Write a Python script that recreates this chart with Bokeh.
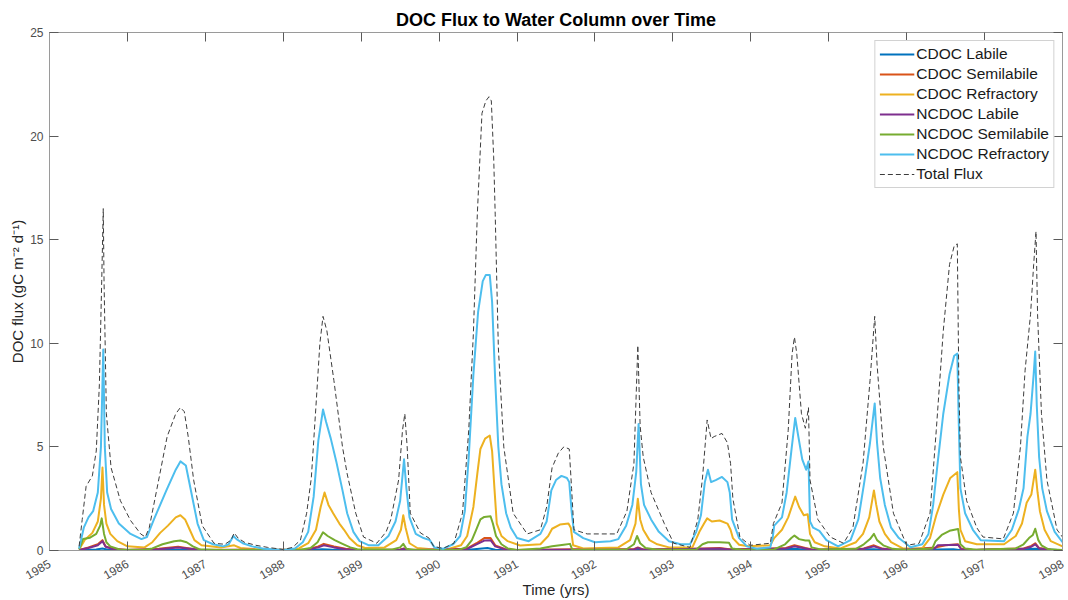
from bokeh.plotting import figure
from bokeh.models import FixedTicker, LinearAxis, Range1d, CustomLabelingPolicy
from bokeh.embed import file_html
from bokeh.resources import INLINE
import math

# Flux series as (time in decimal years, gC m^-2 d^-1) pairs
CDOC_LABILE = [
    (1985.38, 0.01), (1985.60, 0.05), (1985.68, 0.10), (1985.75, 0.04), (1986.00, 0.01),
    (1986.65, 0.04), (1986.90, 0.01), (1988.30, 0.01), (1988.50, 0.06), (1988.70, 0.02),
    (1989.55, 0.02), (1990.30, 0.01), (1990.45, 0.06), (1990.62, 0.12), (1990.72, 0.04),
    (1990.90, 0.01), (1991.60, 0.02), (1992.55, 0.04), (1993.55, 0.04), (1994.56, 0.08),
    (1994.75, 0.03), (1995.58, 0.06), (1995.75, 0.01), (1996.60, 0.06), (1996.70, 0.01),
    (1997.65, 0.08), (1998.00, 0.01),
]

CDOC_SEMILABILE = [
    (1985.38, 0.03), (1985.50, 0.15), (1985.62, 0.30), (1985.68, 0.50), (1985.72, 0.20),
    (1985.82, 0.08), (1986.00, 0.03), (1986.40, 0.08), (1986.65, 0.18), (1986.80, 0.10),
    (1986.95, 0.03), (1988.30, 0.05), (1988.45, 0.20), (1988.52, 0.32), (1988.65, 0.20),
    (1988.80, 0.08), (1988.95, 0.03), (1989.50, 0.05), (1989.55, 0.10), (1989.60, 0.03),
    (1990.35, 0.08), (1990.48, 0.35), (1990.58, 0.60), (1990.66, 0.60), (1990.72, 0.25),
    (1990.85, 0.06), (1991.00, 0.02), (1991.50, 0.05), (1991.70, 0.06), (1992.50, 0.06),
    (1992.55, 0.15), (1992.62, 0.05), (1993.40, 0.10), (1993.60, 0.12), (1993.75, 0.05),
    (1994.45, 0.12), (1994.56, 0.25), (1994.70, 0.12), (1994.80, 0.04), (1995.45, 0.10),
    (1995.58, 0.25), (1995.68, 0.10), (1995.85, 0.03), (1996.38, 0.15), (1996.50, 0.25),
    (1996.66, 0.30), (1996.70, 0.08), (1996.85, 0.03), (1997.50, 0.10), (1997.60, 0.22),
    (1997.65, 0.35), (1997.70, 0.12), (1997.85, 0.04), (1998.00, 0.02),
]

CDOC_REFRACTORY = [
    (1985.38, 0.05), (1985.45, 0.50), (1985.55, 0.85), (1985.62, 1.40), (1985.66, 2.50),
    (1985.68, 4.00), (1985.70, 2.20), (1985.73, 1.30), (1985.78, 0.80), (1985.87, 0.45),
    (1986.00, 0.20), (1986.22, 0.15), (1986.32, 0.40), (1986.42, 0.85), (1986.52, 1.20),
    (1986.62, 1.60), (1986.68, 1.70), (1986.74, 1.50), (1986.80, 1.00), (1986.86, 0.50),
    (1986.95, 0.25), (1987.20, 0.15), (1987.37, 0.25), (1987.45, 0.12), (1987.70, 0.05),
    (1988.00, 0.02), (1988.20, 0.10), (1988.32, 0.35), (1988.42, 1.00), (1988.48, 2.10),
    (1988.53, 2.80), (1988.58, 2.20), (1988.64, 1.80), (1988.72, 1.30), (1988.78, 1.00),
    (1988.85, 0.60), (1988.95, 0.25), (1989.05, 0.12), (1989.30, 0.15), (1989.45, 0.50),
    (1989.51, 1.00), (1989.54, 1.70), (1989.57, 1.10), (1989.62, 0.35), (1989.72, 0.12),
    (1989.90, 0.06), (1990.10, 0.05), (1990.28, 0.25), (1990.36, 0.70), (1990.44, 2.10),
    (1990.49, 3.70), (1990.53, 4.90), (1990.59, 5.40), (1990.65, 5.55), (1990.68, 4.80),
    (1990.71, 3.00), (1990.74, 1.30), (1990.80, 0.70), (1990.88, 0.45), (1991.04, 0.24),
    (1991.30, 0.30), (1991.40, 0.70), (1991.45, 1.05), (1991.55, 1.25), (1991.66, 1.30),
    (1991.69, 1.10), (1991.72, 0.25), (1991.85, 0.10), (1992.30, 0.15), (1992.45, 0.50),
    (1992.52, 1.30), (1992.55, 2.50), (1992.58, 1.50), (1992.62, 1.00), (1992.70, 0.50),
    (1992.80, 0.30), (1992.95, 0.15), (1993.25, 0.15), (1993.34, 0.90), (1993.40, 1.30),
    (1993.44, 1.55), (1993.50, 1.40), (1993.60, 1.45), (1993.70, 1.30), (1993.74, 1.00),
    (1993.77, 0.60), (1993.85, 0.28), (1993.97, 0.20), (1994.25, 0.25), (1994.30, 0.60),
    (1994.40, 1.00), (1994.48, 1.60), (1994.57, 2.60), (1994.62, 2.10), (1994.68, 1.70),
    (1994.73, 1.75), (1994.76, 0.80), (1994.82, 0.40), (1994.95, 0.20), (1995.15, 0.10),
    (1995.35, 0.40), (1995.44, 0.80), (1995.52, 1.60), (1995.58, 2.90), (1995.61, 2.20),
    (1995.65, 1.40), (1995.72, 0.80), (1995.80, 0.40), (1995.95, 0.10), (1996.20, 0.10),
    (1996.30, 0.60), (1996.38, 1.70), (1996.47, 2.70), (1996.56, 3.50), (1996.65, 3.78),
    (1996.67, 2.00), (1996.69, 1.00), (1996.75, 0.45), (1996.90, 0.30), (1997.25, 0.30),
    (1997.40, 0.70), (1997.48, 1.30), (1997.54, 2.30), (1997.60, 2.70), (1997.65, 3.90),
    (1997.68, 2.80), (1997.71, 1.90), (1997.77, 1.00), (1997.85, 0.45), (1998.00, 0.20),
]

NCDOC_LABILE = [
    (1985.38, 0.02), (1985.50, 0.12), (1985.62, 0.25), (1985.68, 0.45), (1985.72, 0.18),
    (1985.82, 0.06), (1986.00, 0.02), (1986.40, 0.06), (1986.65, 0.14), (1986.80, 0.08),
    (1986.95, 0.02), (1988.30, 0.04), (1988.45, 0.15), (1988.52, 0.25), (1988.65, 0.15),
    (1988.80, 0.06), (1988.95, 0.02), (1989.50, 0.04), (1989.55, 0.08), (1989.60, 0.02),
    (1990.35, 0.06), (1990.48, 0.30), (1990.58, 0.48), (1990.66, 0.50), (1990.72, 0.20),
    (1990.85, 0.05), (1991.00, 0.01), (1991.50, 0.04), (1991.70, 0.04), (1992.50, 0.05),
    (1992.55, 0.12), (1992.62, 0.04), (1993.40, 0.08), (1993.60, 0.10), (1993.75, 0.04),
    (1994.45, 0.10), (1994.56, 0.20), (1994.70, 0.10), (1994.80, 0.03), (1995.45, 0.08),
    (1995.58, 0.20), (1995.68, 0.08), (1995.85, 0.02), (1996.36, 0.10), (1996.40, 0.25),
    (1996.55, 0.27), (1996.66, 0.28), (1996.70, 0.06), (1996.85, 0.02), (1997.50, 0.08),
    (1997.60, 0.18), (1997.65, 0.30), (1997.70, 0.10), (1997.85, 0.03), (1998.00, 0.01),
]

NCDOC_SEMILABILE = [
    (1985.38, 0.05), (1985.43, 0.55), (1985.52, 0.62), (1985.60, 0.80), (1985.65, 1.20),
    (1985.67, 1.55), (1985.70, 0.80), (1985.73, 0.40), (1985.78, 0.20), (1985.90, 0.05),
    (1986.20, 0.02), (1986.32, 0.10), (1986.45, 0.30), (1986.60, 0.45), (1986.68, 0.48),
    (1986.76, 0.40), (1986.84, 0.20), (1986.92, 0.06), (1987.20, 0.02), (1988.20, 0.02),
    (1988.35, 0.12), (1988.44, 0.40), (1988.51, 0.88), (1988.57, 0.70), (1988.66, 0.50),
    (1988.76, 0.32), (1988.86, 0.15), (1988.95, 0.06), (1989.40, 0.05), (1989.50, 0.15),
    (1989.54, 0.32), (1989.58, 0.08), (1989.70, 0.02), (1990.25, 0.03), (1990.35, 0.16),
    (1990.42, 0.50), (1990.47, 0.95), (1990.53, 1.50), (1990.58, 1.62), (1990.66, 1.65),
    (1990.69, 1.30), (1990.73, 0.70), (1990.80, 0.30), (1990.88, 0.10), (1991.00, 0.03),
    (1991.30, 0.10), (1991.45, 0.20), (1991.60, 0.28), (1991.68, 0.32), (1991.71, 0.03),
    (1992.40, 0.05), (1992.50, 0.30), (1992.54, 0.70), (1992.58, 0.35), (1992.65, 0.12),
    (1992.80, 0.04), (1993.30, 0.05), (1993.38, 0.30), (1993.45, 0.40), (1993.60, 0.40),
    (1993.72, 0.37), (1993.76, 0.10), (1993.90, 0.03), (1994.30, 0.05), (1994.44, 0.30),
    (1994.52, 0.60), (1994.56, 0.72), (1994.62, 0.55), (1994.70, 0.48), (1994.75, 0.48),
    (1994.78, 0.15), (1994.90, 0.05), (1995.35, 0.08), (1995.45, 0.30), (1995.53, 0.55),
    (1995.58, 0.80), (1995.62, 0.50), (1995.70, 0.25), (1995.82, 0.08), (1996.00, 0.02),
    (1996.33, 0.10), (1996.37, 0.45), (1996.45, 0.75), (1996.55, 0.95), (1996.66, 1.04),
    (1996.69, 0.30), (1996.75, 0.10), (1996.90, 0.04), (1997.40, 0.10), (1997.50, 0.30),
    (1997.57, 0.60), (1997.62, 0.75), (1997.65, 1.05), (1997.69, 0.50), (1997.73, 0.25),
    (1997.82, 0.06), (1998.00, 0.02),
]

NCDOC_REFRACTORY = [
    (1985.38, 0.10), (1985.44, 1.10), (1985.50, 1.60), (1985.56, 1.90), (1985.62, 2.80),
    (1985.66, 5.00), (1985.69, 9.70), (1985.71, 5.00), (1985.74, 2.80), (1985.79, 2.00),
    (1985.89, 1.30), (1986.04, 0.80), (1986.18, 0.55), (1986.25, 0.65), (1986.34, 1.50),
    (1986.50, 2.90), (1986.62, 3.90), (1986.68, 4.30), (1986.75, 4.10), (1986.82, 2.80),
    (1986.90, 1.30), (1986.98, 0.50), (1987.10, 0.30), (1987.23, 0.20), (1987.30, 0.30),
    (1987.36, 0.70), (1987.40, 0.55), (1987.48, 0.35), (1987.60, 0.20), (1987.75, 0.08),
    (1988.00, 0.03), (1988.15, 0.10), (1988.25, 0.40), (1988.32, 0.90), (1988.39, 2.60),
    (1988.45, 5.30), (1988.51, 6.80), (1988.55, 6.20), (1988.61, 5.40), (1988.68, 4.30),
    (1988.76, 2.90), (1988.82, 1.80), (1988.90, 0.90), (1988.98, 0.45), (1989.10, 0.25),
    (1989.22, 0.25), (1989.35, 0.70), (1989.44, 1.40), (1989.50, 2.40), (1989.55, 4.40),
    (1989.58, 3.00), (1989.62, 1.60), (1989.70, 0.80), (1989.80, 0.60), (1989.88, 0.50),
    (1989.94, 0.15), (1990.05, 0.08), (1990.18, 0.30), (1990.27, 0.70), (1990.33, 1.90),
    (1990.38, 4.50), (1990.44, 8.50), (1990.50, 11.50), (1990.56, 13.00), (1990.60, 13.30),
    (1990.65, 13.30), (1990.68, 12.00), (1990.72, 8.20), (1990.76, 5.00), (1990.80, 3.20),
    (1990.86, 1.80), (1990.92, 1.10), (1991.00, 0.60), (1991.15, 0.45), (1991.30, 0.80),
    (1991.38, 1.40), (1991.44, 2.90), (1991.50, 3.40), (1991.57, 3.60), (1991.64, 3.50),
    (1991.67, 3.30), (1991.70, 1.90), (1991.73, 0.90), (1991.85, 0.60), (1992.00, 0.40),
    (1992.20, 0.45), (1992.30, 0.55), (1992.40, 1.20), (1992.48, 2.20), (1992.53, 3.80),
    (1992.56, 6.10), (1992.59, 3.20), (1992.63, 2.20), (1992.72, 1.50), (1992.82, 0.90),
    (1992.95, 0.45), (1993.10, 0.30), (1993.22, 0.30), (1993.30, 0.90), (1993.36, 1.70),
    (1993.41, 3.30), (1993.45, 3.90), (1993.49, 3.30), (1993.55, 3.40), (1993.63, 3.55),
    (1993.70, 3.30), (1993.73, 2.80), (1993.76, 1.50), (1993.85, 0.60), (1993.95, 0.20),
    (1994.08, 0.08), (1994.25, 0.16), (1994.28, 0.60), (1994.30, 1.20), (1994.40, 1.60),
    (1994.46, 2.80), (1994.52, 4.80), (1994.57, 6.40), (1994.61, 5.50), (1994.66, 4.40),
    (1994.71, 3.90), (1994.74, 4.30), (1994.76, 1.40), (1994.80, 1.10), (1994.88, 0.95),
    (1994.97, 0.50), (1995.12, 0.20), (1995.28, 0.50), (1995.38, 1.50), (1995.46, 3.40),
    (1995.53, 5.20), (1995.59, 7.10), (1995.62, 5.20), (1995.66, 3.50), (1995.72, 2.20),
    (1995.80, 1.10), (1995.90, 0.60), (1996.05, 0.16), (1996.20, 0.30), (1996.28, 0.80),
    (1996.34, 2.20), (1996.40, 4.30), (1996.47, 6.60), (1996.55, 8.50), (1996.61, 9.40),
    (1996.65, 9.50), (1996.67, 6.00), (1996.69, 3.00), (1996.75, 1.80), (1996.85, 1.00),
    (1996.95, 0.50), (1997.25, 0.45), (1997.35, 1.00), (1997.44, 2.00), (1997.50, 3.00),
    (1997.55, 5.50), (1997.59, 6.60), (1997.63, 8.50), (1997.65, 9.60), (1997.67, 7.00),
    (1997.70, 4.50), (1997.74, 3.00), (1997.80, 1.90), (1997.90, 0.90), (1998.00, 0.40),
]

TOTAL_FLUX = [
    (1985.38, 0.20), (1985.42, 1.50), (1985.47, 3.10), (1985.55, 3.60), (1985.60, 4.80),
    (1985.64, 8.00), (1985.67, 13.00), (1985.69, 16.50), (1985.70, 13.00), (1985.73, 6.60),
    (1985.79, 4.00), (1985.91, 2.40), (1986.04, 1.45), (1986.17, 0.80), (1986.23, 0.65),
    (1986.28, 1.10), (1986.38, 3.00), (1986.51, 5.50), (1986.62, 6.60), (1986.68, 6.90),
    (1986.73, 6.70), (1986.78, 5.50), (1986.85, 3.40), (1986.96, 1.20), (1987.11, 0.35),
    (1987.25, 0.30), (1987.33, 0.50), (1987.37, 0.85), (1987.42, 0.60), (1987.50, 0.40),
    (1987.65, 0.25), (1987.80, 0.15), (1988.00, 0.05), (1988.12, 0.15), (1988.22, 0.50),
    (1988.30, 1.80), (1988.36, 3.50), (1988.42, 7.00), (1988.47, 10.00), (1988.51, 11.30),
    (1988.56, 10.60), (1988.65, 8.20), (1988.76, 5.00), (1988.82, 3.70), (1988.93, 1.80),
    (1989.03, 0.65), (1989.20, 0.35), (1989.32, 0.90), (1989.38, 1.50), (1989.48, 3.40),
    (1989.53, 5.80), (1989.56, 6.60), (1989.59, 5.00), (1989.63, 1.80), (1989.76, 0.85),
    (1989.87, 0.60), (1989.93, 0.20), (1990.05, 0.10), (1990.19, 0.35), (1990.30, 1.80),
    (1990.38, 5.80), (1990.44, 10.50), (1990.49, 16.20), (1990.55, 21.10), (1990.60, 21.70),
    (1990.64, 21.90), (1990.67, 21.70), (1990.70, 19.00), (1990.72, 16.20), (1990.76, 9.80),
    (1990.83, 5.00), (1990.95, 1.80), (1991.13, 0.80), (1991.30, 1.00), (1991.38, 2.10),
    (1991.45, 4.00), (1991.53, 4.70), (1991.60, 5.00), (1991.67, 4.90), (1991.70, 3.00),
    (1991.73, 1.00), (1991.90, 0.80), (1992.28, 0.80), (1992.41, 1.90), (1992.50, 4.20),
    (1992.55, 9.90), (1992.58, 6.00), (1992.62, 4.50), (1992.72, 2.80), (1992.89, 1.30),
    (1993.01, 0.35), (1993.22, 0.15), (1993.32, 1.50), (1993.38, 3.50), (1993.44, 6.30),
    (1993.49, 5.40), (1993.53, 5.50), (1993.63, 5.65), (1993.70, 5.20), (1993.74, 4.20),
    (1993.77, 2.50), (1993.86, 0.65), (1993.99, 0.25), (1994.25, 0.35), (1994.29, 1.30),
    (1994.40, 2.30), (1994.48, 5.80), (1994.53, 9.50), (1994.56, 10.30), (1994.59, 9.50),
    (1994.65, 6.60), (1994.70, 5.90), (1994.74, 6.90), (1994.76, 3.40), (1994.86, 1.50),
    (1995.02, 0.65), (1995.19, 0.35), (1995.31, 1.10), (1995.44, 4.20), (1995.53, 8.20),
    (1995.59, 11.30), (1995.62, 9.00), (1995.70, 5.00), (1995.83, 1.80), (1996.00, 0.25),
    (1996.16, 0.35), (1996.30, 1.80), (1996.38, 5.80), (1996.47, 10.60), (1996.55, 13.80),
    (1996.61, 14.70), (1996.65, 14.80), (1996.67, 8.00), (1996.69, 4.50), (1996.77, 2.40),
    (1996.90, 1.10), (1996.98, 0.65), (1997.24, 0.56), (1997.37, 1.80), (1997.46, 5.00),
    (1997.52, 8.70), (1997.59, 11.40), (1997.63, 13.80), (1997.66, 15.40), (1997.68, 11.40),
    (1997.73, 6.60), (1997.80, 3.40), (1997.93, 1.00), (1998.00, 0.65),
]

YEARS = list(range(1985, 1999))
Y_TICKS = [0, 5, 10, 15, 20, 25]

SERIES = [
    ("CDOC Labile", CDOC_LABILE, "#0072BD"),
    ("CDOC Semilabile", CDOC_SEMILABILE, "#D95319"),
    ("CDOC Refractory", CDOC_REFRACTORY, "#EDB120"),
    ("NCDOC Labile", NCDOC_LABILE, "#7E2F8E"),
    ("NCDOC Semilabile", NCDOC_SEMILABILE, "#77AC30"),
    ("NCDOC Refractory", NCDOC_REFRACTORY, "#4DBEEE"),
]

FONT = "Liberation Sans"
AXIS_GREY = "#9a9a9a"
TICK_GREY = "#5a5a5a"
LABEL_GREY = "#4d4d4d"

p = figure(
    width=1068, height=600,
    x_range=Range1d(1985, 1998), y_range=Range1d(0, 25),
    output_backend="svg", toolbar_location=None,
    min_border_left=49, min_border_right=6, min_border_top=32, min_border_bottom=50,
    title="DOC Flux to Water Column over Time",
)
p.background_fill_color = "white"
p.border_fill_color = "white"
p.grid.visible = False
p.outline_line_color = AXIS_GREY
p.outline_line_width = 1

p.title.align = "center"
p.title.text_font = FONT
p.title.text_font_size = "18px"
p.title.text_font_style = "bold"
p.title.text_color = "#000000"
p.title.offset = 0
p.title.standoff = 6

for name, pts, color in SERIES:
    xs = [t for t, _ in pts]
    ys = [v for _, v in pts]
    p.line(xs, ys, line_color=color, line_width=2, line_join="round", legend_label=name)

p.line([t for t, _ in TOTAL_FLUX], [v for _, v in TOTAL_FLUX],
       line_color="#3c3c3c", line_width=1, line_dash="5 3", legend_label="Total Flux")

# bottom / left axes with inward ticks
xa = p.xaxis[0]
xa.ticker = FixedTicker(ticks=YEARS)
xa.major_label_orientation = math.pi / 6
ya = p.yaxis[0]
ya.ticker = FixedTicker(ticks=Y_TICKS)
for ax in (xa, ya):
    ax.axis_line_color = AXIS_GREY
    ax.major_tick_line_color = TICK_GREY
    ax.major_tick_in = 9
    ax.major_tick_out = 0
    ax.minor_tick_line_color = None
    ax.major_label_text_font = FONT
    ax.major_label_text_font_size = "12px"
    ax.major_label_text_color = LABEL_GREY
    ax.axis_label_text_font = FONT
    ax.axis_label_text_font_size = "15px"
    ax.axis_label_text_font_style = "normal"
    ax.axis_label_text_color = "#262626"
xa.axis_label = "Time (yrs)"
xa.major_label_standoff = 12
xa.axis_label_standoff = -6
ya.axis_label = "DOC flux (gC m\u207b\u00b2 d\u207b\u00b9)"
ya.major_label_standoff = 6
ya.axis_label_standoff = 1

# mirrored tick marks on the top and right edges of the box (no labels)
no_labels = CustomLabelingPolicy(
    code="const ids = [...indices]; for (const i of ids) indices.unset(i); return indices")
for loc, ticks in (("above", YEARS), ("right", Y_TICKS)):
    ax = LinearAxis(ticker=FixedTicker(ticks=ticks), major_label_policy=no_labels)
    ax.axis_line_color = AXIS_GREY
    ax.major_tick_line_color = TICK_GREY
    ax.major_tick_in = 9
    ax.major_tick_out = 0
    ax.minor_tick_line_color = None
    ax.major_label_text_font_size = "0px"
    ax.major_label_standoff = 0
    p.add_layout(ax, loc)

lg = p.legend[0]
lg.location = "top_right"
lg.margin = 8
lg.padding = 4
lg.spacing = 2
lg.glyph_width = 35
lg.glyph_height = 18
lg.label_height = 18
lg.label_standoff = 2
lg.label_text_font = FONT
lg.label_text_font_size = "15.5px"
lg.label_text_color = "#1a1a1a"
lg.border_line_color = "#a6a6a6"
lg.border_line_width = 1
lg.background_fill_color = "white"
lg.background_fill_alpha = 1.0

open("out.html", "w").write(file_html(p, INLINE))
